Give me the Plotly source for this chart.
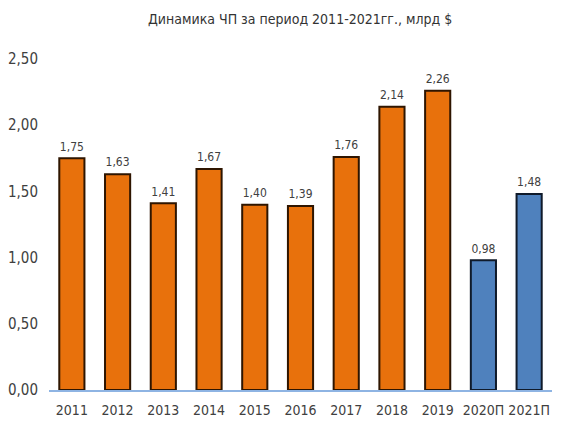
import plotly.graph_objects as go

categories = ["2011", "2012", "2013", "2014", "2015", "2016", "2017", "2018", "2019", "2020П", "2021П"]
values = [1.75, 1.63, 1.41, 1.67, 1.40, 1.39, 1.76, 2.14, 2.26, 0.98, 1.48]
is_forecast = [False] * 9 + [True] * 2
y_ticks = [0, 0.5, 1.0, 1.5, 2.0, 2.5]

fill = ["#4F81BD" if f else "#E8710C" for f in is_forecast]
edge = ["#0F1A2A" if f else "#2E1500" for f in is_forecast]

font_family = "Liberation Sans Narrow, Arial Narrow, DejaVu Sans Condensed, sans-serif"

fig = go.Figure()
fig.add_trace(go.Bar(
    x=categories, y=values,
    marker=dict(color=fill, line=dict(color=edge, width=2)),
    hoverinfo="x+y",
))
fig.add_trace(go.Scatter(
    x=categories, y=values, mode="markers+text",
    marker=dict(size=6, opacity=0),
    texttemplate="%{y:.2f}", textposition="top center",
    textfont=dict(family=font_family, size=12, color="#404040"),
    hoverinfo="skip", cliponaxis=False,
))

fig.update_layout(
    width=561, height=440,
    margin=dict(l=49, r=9, t=59, b=50),
    paper_bgcolor="white", plot_bgcolor="white",
    separators=", ",
    bargap=0.45,
    showlegend=False,
    title=dict(text="Динамика ЧП за период 2011-2021гг., млрд $", x=0.535, xanchor="center",
               y=0.957, yanchor="middle",
               font=dict(family=font_family, size=14, color="#333333")),
    xaxis=dict(type="category", categoryorder="array", categoryarray=categories,
               range=[-0.5, len(categories) - 0.5],
               showgrid=False, showline=True, linecolor="#8EB4E3", linewidth=1.5,
               ticks="", tickangle=0, ticklabelstandoff=6,
               tickfont=dict(family=font_family, size=14, color="#404040")),
    yaxis=dict(range=[0, 2.5], tickvals=y_ticks, tickformat=".2f", showgrid=False,
               zeroline=False, showline=False, ticks="", ticklabelstandoff=10,
               tickfont=dict(family=font_family, size=15, color="#404040")),
)

fig.write_html("out.html")
